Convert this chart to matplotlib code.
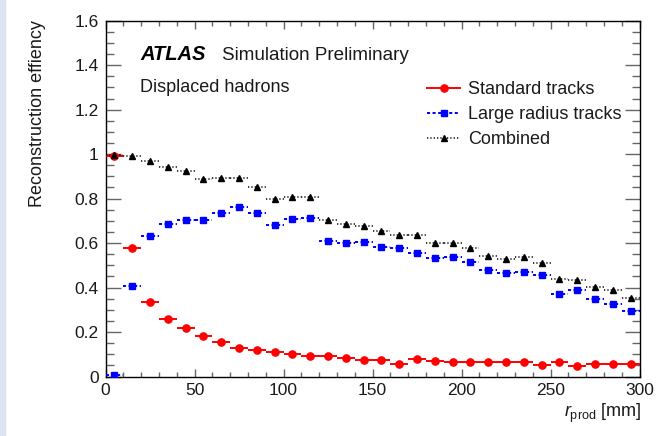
import numpy as np
import matplotlib
matplotlib.use("Agg")
import matplotlib.pyplot as plt
from matplotlib.lines import Line2D
from matplotlib.patches import Rectangle
from matplotlib.ticker import MultipleLocator, FuncFormatter

plt.rcParams['font.family'] = ['Liberation Sans', 'DejaVu Sans']
plt.rcParams['mathtext.fontset'] = 'custom'
plt.rcParams['mathtext.rm'] = 'Liberation Sans'
plt.rcParams['mathtext.it'] = 'Liberation Sans:italic'
plt.rcParams['lines.scale_dashes'] = False

# ---- data ----
bin_centers = np.arange(5, 300, 10)
bin_half_width = 5

standard = [0.99, 0.58, 0.334, 0.26, 0.217, 0.183, 0.154, 0.13, 0.12, 0.112,
            0.099, 0.093, 0.094, 0.082, 0.072, 0.072, 0.058, 0.079, 0.07, 0.064,
            0.067, 0.064, 0.066, 0.067, 0.052, 0.067, 0.049, 0.054, 0.058, 0.057]
large_radius = [0.006, 0.407, 0.634, 0.686, 0.704, 0.704, 0.737, 0.763, 0.733, 0.682,
                0.71, 0.715, 0.611, 0.601, 0.607, 0.584, 0.578, 0.556, 0.535, 0.538,
                0.515, 0.481, 0.467, 0.472, 0.457, 0.373, 0.387, 0.349, 0.328, 0.295]
combined = [0.996, 0.99, 0.968, 0.944, 0.923, 0.888, 0.891, 0.893, 0.851, 0.797,
            0.807, 0.807, 0.703, 0.685, 0.677, 0.656, 0.635, 0.635, 0.601, 0.601,
            0.58, 0.544, 0.53, 0.536, 0.509, 0.44, 0.436, 0.404, 0.387, 0.352]

series_labels = ["Standard tracks", "Large radius tracks", "Combined"]
x_ticks = [0, 50, 100, 150, 200, 250, 300]
y_ticks = [0, 0.2, 0.4, 0.6, 0.8, 1.0, 1.2, 1.4, 1.6]

W, H = 663, 436
fig = plt.figure(figsize=(W / 100, H / 100), dpi=100)
fig.patches.append(Rectangle((0, 0), 5 / W, 1, transform=fig.transFigure,
                             color='#dce5ef', zorder=0))
ax = fig.add_axes([105.5 / W, 1 - 376.5 / H, (639.5 - 105.5) / W, (376.5 - 20.7) / H])

styles = [
    dict(color='#ff0000', marker='o', ms=5.2, ls='-', lw=1.4),
    dict(color='#0000ff', marker='s', ms=5.0, ls=(0, (2.2, 1.8)), lw=1.4),
    dict(color='black', marker='^', ms=5.0, ls=(0, (0.9, 1.5)), lw=1.1),
]

xc = np.asarray(bin_centers, dtype=float)
handles = []
for vals, st, lab in zip([standard, large_radius, combined], styles, series_labels):
    v = np.asarray(vals)
    ax.hlines(v, xc - bin_half_width, xc + bin_half_width, colors=st['color'],
              linestyles=st['ls'], linewidth=st['lw'], zorder=3)
    ax.plot(xc, v, ls='none', marker=st['marker'], ms=st['ms'], color=st['color'],
            mec=st['color'], zorder=4)
    handles.append(Line2D([], [], color=st['color'], ls=st['ls'], lw=st['lw'],
                          marker=st['marker'], ms=st['ms'], mec=st['color']))

ax.set_xlim(0, 300)
ax.set_ylim(0, 1.6)
ax.set_xticks(x_ticks)
ax.set_yticks(y_ticks)
ax.xaxis.set_minor_locator(MultipleLocator(10))
ax.yaxis.set_minor_locator(MultipleLocator(0.05))
ax.yaxis.set_major_formatter(FuncFormatter(lambda v, p: f'{v:g}'))
ax.tick_params(which='both', direction='in', top=True, right=True, color='#666666',
               width=1.0, labelsize=12.5, labelcolor='#1a1a1a', pad=5)
ax.tick_params(axis='x', which='major', length=6)
ax.tick_params(axis='x', which='minor', length=3.5)
ax.tick_params(axis='y', which='major', length=11)
ax.tick_params(axis='y', which='minor', length=5.5)
for s in ax.spines.values():
    s.set_linewidth(1.0)
    s.set_color('black')

fig.text(38 / W, 1 - 20 / H, "Reconstruction effiency", rotation=90, ha='center',
         va='top', fontsize=13, color='#1a1a1a')
fig.text(641 / W, 1 - 413 / H, r"$r_{\mathrm{prod}}$ [mm]", ha='right', va='center',
         fontsize=13, color='#1a1a1a')

fig.text(140 / W, 1 - 55 / H, "ATLAS", fontsize=14.5, fontweight='bold', fontstyle='italic',
         ha='left', va='center', color='black')
fig.text(222 / W, 1 - 55 / H, "Simulation Preliminary", fontsize=13.6, ha='left',
         va='center', color='#1a1a1a')
fig.text(140 / W, 1 - 88 / H, "Displaced hadrons", fontsize=13, ha='left', va='center',
         color='#1a1a1a')

leg = fig.legend(handles, series_labels, loc='upper left',
                 bbox_to_anchor=(427 / W, 1 - 81 / H), frameon=False, fontsize=13,
                 handlelength=1.85, handletextpad=0.4, labelspacing=0.45,
                 borderpad=0, borderaxespad=0, labelcolor='#1a1a1a')

fig.savefig("out.png", dpi=100)
